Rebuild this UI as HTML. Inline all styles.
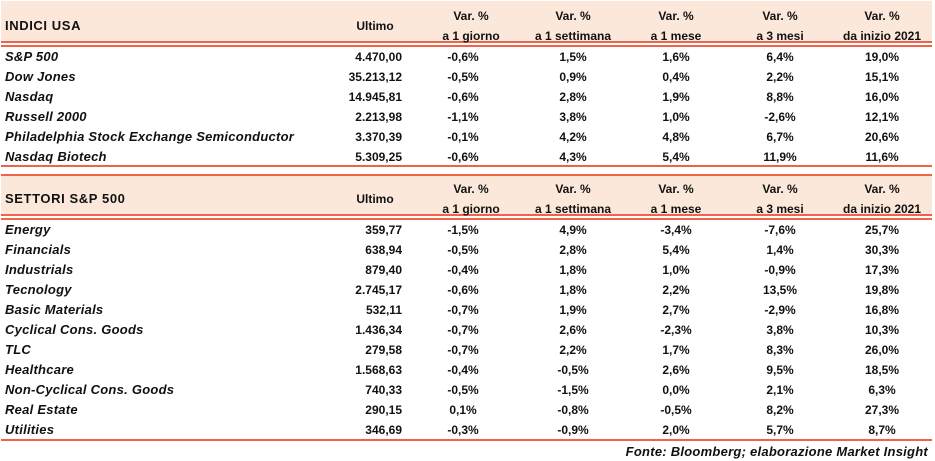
<!DOCTYPE html>
<html><head><meta charset="utf-8"><style>
body{margin:0;width:935px;height:461px;background:#fff;position:relative;overflow:hidden;font-family:"Liberation Sans",sans-serif;font-weight:bold;font-size:12px;color:#111}
.bg{position:absolute;left:1px;width:931px;background:#fbe8da}
.ln{position:absolute;left:1px;width:931px;height:2px;background:#f0634a}
.t{position:absolute;white-space:nowrap;line-height:14px}
.c{transform:translateX(-50%)}
.r{transform:translateX(-100%)}
.nm{font-size:13px;letter-spacing:0.25px}
.tt{font-size:13px;letter-spacing:0.6px}
</style></head><body>
<div class="bg" style="top:1px;height:41px"></div>
<div class="ln" style="top:41px"></div><div class="ln" style="top:45px"></div>
<div class="ln" style="top:165px"></div><div class="ln" style="top:174px"></div>
<div class="bg" style="top:176px;height:38px"></div>
<div class="ln" style="top:214px"></div><div class="ln" style="top:218px"></div>
<div class="ln" style="top:439px"></div>
<script>
var cols=[471,573,676,780,882];
function hdr(y,title){
 add(title,5,y+14,'tt');
 add('Ultimo',375,y+14,'c');
 var sub=['a 1 giorno','a 1 settimana','a 1 mese','a 3 mesi','da inizio 2021'];
 for(var i=0;i<5;i++){add('Var. %',cols[i],y+4,'c');add(sub[i],cols[i],y+24,'c');}
}
function add(t,x,y,cl,it){var d=document.createElement('div');d.className='t '+cl;d.style.left=x+'px';d.style.top=y+'px';d.textContent=t;if(it)d.style.fontStyle='italic';document.body.appendChild(d);}
function rows(y0,data){data.forEach(function(r,k){var y=y0+k*20;add(r[0],5,y,'nm',1);add(r[1],402,y,'r');for(var i=0;i<5;i++)add(r[i+2],cols[i]-(i==0?8:0),y,'c');});}
hdr(5,'INDICI USA');
rows(50,[["S&P 500","4.470,00","-0,6%","1,5%","1,6%","6,4%","19,0%"],
["Dow Jones","35.213,12","-0,5%","0,9%","0,4%","2,2%","15,1%"],
["Nasdaq","14.945,81","-0,6%","2,8%","1,9%","8,8%","16,0%"],
["Russell 2000","2.213,98","-1,1%","3,8%","1,0%","-2,6%","12,1%"],
["Philadelphia Stock Exchange Semiconductor","3.370,39","-0,1%","4,2%","4,8%","6,7%","20,6%"],
["Nasdaq Biotech","5.309,25","-0,6%","4,3%","5,4%","11,9%","11,6%"]]);
hdr(178,'SETTORI S&P 500');
rows(223,[["Energy","359,77","-1,5%","4,9%","-3,4%","-7,6%","25,7%"],
["Financials","638,94","-0,5%","2,8%","5,4%","1,4%","30,3%"],
["Industrials","879,40","-0,4%","1,8%","1,0%","-0,9%","17,3%"],
["Tecnology","2.745,17","-0,6%","1,8%","2,2%","13,5%","19,8%"],
["Basic Materials","532,11","-0,7%","1,9%","2,7%","-2,9%","16,8%"],
["Cyclical Cons. Goods","1.436,34","-0,7%","2,6%","-2,3%","3,8%","10,3%"],
["TLC","279,58","-0,7%","2,2%","1,7%","8,3%","26,0%"],
["Healthcare","1.568,63","-0,4%","-0,5%","2,6%","9,5%","18,5%"],
["Non-Cyclical Cons. Goods","740,33","-0,5%","-1,5%","0,0%","2,1%","6,3%"],
["Real Estate","290,15","0,1%","-0,8%","-0,5%","8,2%","27,3%"],
["Utilities","346,69","-0,3%","-0,9%","2,0%","5,7%","8,7%"]]);
add('Fonte: Bloomberg; elaborazione Market Insight',928,445,'r nm',1);
</script>
</body></html>
